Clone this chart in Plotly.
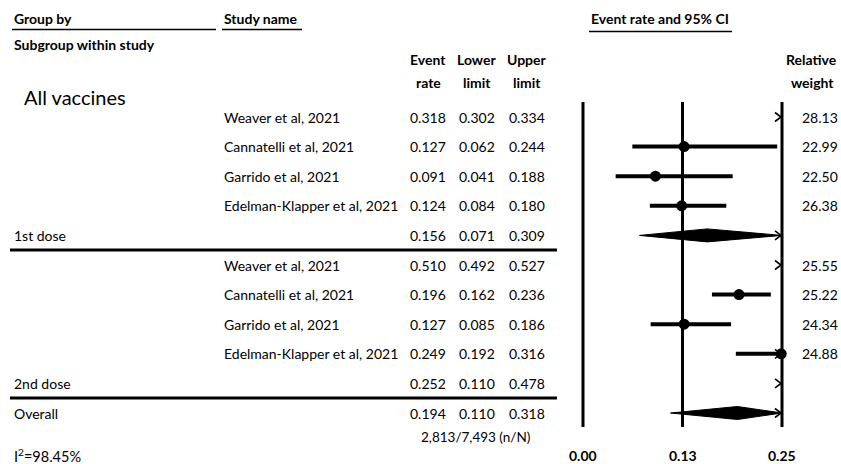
import plotly.graph_objects as go

# ---------------- data ----------------
studies = ["Weaver et al, 2021", "Cannatelli et al, 2021", "Garrido et al, 2021",
           "Edelman-Klapper et al, 2021"]
dose1_rate = [0.318, 0.127, 0.091, 0.124]
dose1_lower = [0.302, 0.062, 0.041, 0.084]
dose1_upper = [0.334, 0.244, 0.188, 0.180]
dose1_weight = [28.13, 22.99, 22.50, 26.38]

dose2_rate = [0.510, 0.196, 0.127, 0.249]
dose2_lower = [0.492, 0.162, 0.085, 0.192]
dose2_upper = [0.527, 0.236, 0.186, 0.316]
dose2_weight = [25.55, 25.22, 24.34, 24.88]

subgroups = ["1st dose", "2nd dose", "Overall"]
sub_rate = [0.156, 0.252, 0.194]
sub_lower = [0.071, 0.110, 0.110]
sub_upper = [0.309, 0.478, 0.318]

axis_ticks = [0.0, 0.125, 0.25]
axis_labels = ["0.00", "0.13", "0.25"]
group_title = "All vaccines"
total_events = "2,813/7,493 (n/N)"
i2_text = "I<sup>2</sup>=98.45%"

# ---------------- geometry / style ----------------
W, H = 841, 464
X0_PX, X1_PX = 583, 782
XMIN, XMAX = axis_ticks[0], axis_ticks[-1]
PPU = (X1_PX - X0_PX) / (XMAX - XMIN)
ROW0_PX, ROW_PX = 117, 29.6
FONT = "Lato"
BLACK = "#000000"

xrange = [XMIN - X0_PX / PPU, XMIN + (W - X0_PX) / PPU]
yrange = [(H - ROW0_PX) / ROW_PX, -ROW0_PX / ROW_PX]


def py(px):
    return 1 - px / H


def px_(x):
    return x / W


# Build row structure
rows = []  # (kind, label, study, rate, lo, hi, weight)
for i, s in enumerate(studies):
    rows.append(("study", "", s, dose1_rate[i], dose1_lower[i], dose1_upper[i], dose1_weight[i]))
rows.append(("summary", subgroups[0], "", sub_rate[0], sub_lower[0], sub_upper[0], None))
for i, s in enumerate(studies):
    rows.append(("study", "", s, dose2_rate[i], dose2_lower[i], dose2_upper[i], dose2_weight[i]))
rows.append(("summary", subgroups[1], "", sub_rate[1], sub_lower[1], sub_upper[1], None))
rows.append(("summary", subgroups[2], "", sub_rate[2], sub_lower[2], sub_upper[2], None))

fig = go.Figure()

# vertical reference lines
top_row = (102 - ROW0_PX) / ROW_PX
bot_row = (427 - ROW0_PX) / ROW_PX
for t in axis_ticks:
    fig.add_trace(go.Scatter(x=[t, t], y=[top_row, bot_row], mode="lines",
                             line=dict(color=BLACK, width=3), hoverinfo="skip"))


def chevron(r):
    dx = 7 / PPU
    dx0 = 1 / PPU
    dy = 4.5 / ROW_PX
    fig.add_trace(go.Scatter(x=[XMAX - dx, XMAX - dx0, XMAX - dx],
                             y=[r - dy, r, r + dy], mode="lines",
                             line=dict(color=BLACK, width=1.6), hoverinfo="skip"))


H_DIAM = 6.5 / ROW_PX
for r, (kind, label, study, rate, lo, hi, w) in enumerate(rows):
    if kind == "study":
        if lo < XMAX:
            fig.add_trace(go.Scatter(x=[max(lo, XMIN), min(hi, XMAX)], y=[r, r], mode="lines",
                                     line=dict(color=BLACK, width=4), hoverinfo="skip"))
        if hi > XMAX:
            chevron(r)
        if XMIN <= rate <= XMAX:
            fig.add_trace(go.Scatter(x=[rate], y=[r], mode="markers",
                                     marker=dict(color=BLACK, size=11, symbol="circle"),
                                     hoverinfo="skip", cliponaxis=False))
    else:
        if XMIN <= rate <= XMAX:
            right = min(hi, XMAX)
            fig.add_trace(go.Scatter(x=[lo, rate, right, rate, lo],
                                     y=[r, r - H_DIAM, r, r + H_DIAM, r],
                                     mode="lines", fill="toself", fillcolor=BLACK,
                                     line=dict(color=BLACK, width=1), hoverinfo="skip"))
        if hi > XMAX:
            chevron(r)

annotations = []


def ann(text, x, y, xanchor="left", size=14, bold=False, yref="y"):
    annotations.append(dict(text=("<b>%s</b>" % text) if bold else text,
                            x=x, y=y, xref="paper", yref=yref, xanchor=xanchor,
                            yanchor="middle", showarrow=False,
                            font=dict(family=FONT, size=size, color=BLACK)))


# headers
ann("Group by", px_(12), py(19), bold=True, yref="paper")
ann("Study name", px_(222), py(19), bold=True, yref="paper")
ann("Subgroup within study", px_(12), py(44), bold=True, yref="paper")
ann("Event rate and 95% CI", px_(660), py(19), xanchor="center", bold=True, yref="paper")
COLS = [428, 477, 527]
for cx, (l1, l2) in zip(COLS, [("Event", "rate"), ("Lower", "limit"), ("Upper", "limit")]):
    ann(l1, px_(cx), py(60), xanchor="center", bold=True, yref="paper")
    ann(l2, px_(cx), py(82), xanchor="center", bold=True, yref="paper")
ann("Relative", px_(839), py(60), xanchor="right", bold=True, yref="paper")
ann("weight", px_(836), py(82), xanchor="right", bold=True, yref="paper")
ann(group_title, px_(22), (97 - ROW0_PX) / ROW_PX, size=20)

for r, (kind, label, study, rate, lo, hi, w) in enumerate(rows):
    if label:
        ann(label, px_(12), r)
    if study:
        ann(study, px_(222), r)
    for cx, v in zip(COLS, [rate, lo, hi]):
        ann("%.3f" % v, px_(cx), r, xanchor="center")
    if w is not None:
        ann("%.2f" % w, px_(840), r, xanchor="right")

ann(total_events, px_(475), py(437), xanchor="center", size=13.5, yref="paper")
ann(i2_text, px_(12), py(455), size=14.5, yref="paper")
for t, lab in zip(axis_ticks, axis_labels):
    annotations.append(dict(text="<b>%s</b>" % lab, x=t, y=py(455), xref="x", yref="paper",
                            xanchor="center", yanchor="middle", showarrow=False,
                            font=dict(family=FONT, size=14, color=BLACK)))

shapes = []


def hline(x0, x1, ypx, width):
    shapes.append(dict(type="line", xref="paper", yref="paper", x0=px_(x0), x1=px_(x1),
                       y0=py(ypx), y1=py(ypx), line=dict(color=BLACK, width=width)))


hline(12, 216, 29.5, 1.5)
hline(222, 302, 29.5, 1.5)
hline(589, 732, 31.5, 1.5)
hline(10, 557, 250, 3)
hline(10, 557, 398, 3)

fig.update_layout(
    width=W, height=H,
    margin=dict(l=0, r=0, t=0, b=0),
    paper_bgcolor="white", plot_bgcolor="white",
    showlegend=False,
    xaxis=dict(range=xrange, visible=False, domain=[0, 1], fixedrange=True),
    yaxis=dict(range=yrange, visible=False, domain=[0, 1], fixedrange=True),
    annotations=annotations,
    shapes=shapes,
)

fig.write_html("out.html", config={"displayModeBar": False},
               post_script="document.body.style.margin='0px';"
                           "document.body.style.overflow='hidden';")
